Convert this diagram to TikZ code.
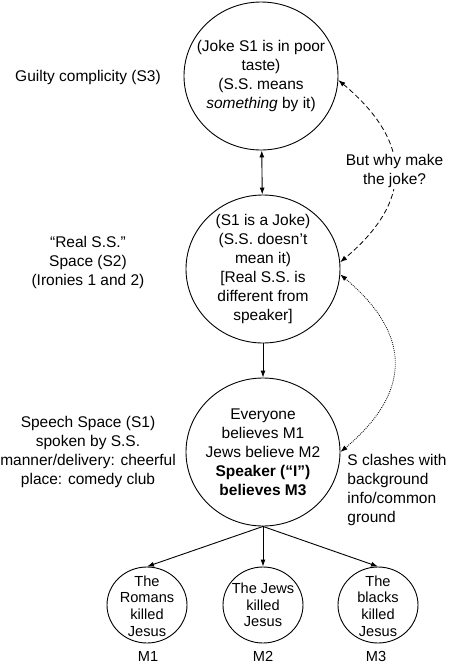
\documentclass[tikz,border=0pt]{standalone}
\usepackage{fontspec}
\setmainfont{Liberation Sans}
\usetikzlibrary{arrows.meta,shapes.geometric}
\begin{document}
\begin{tikzpicture}[x=1pt,y=-1pt,
  line width=0.9pt,
  tip/.style={-{Latex[length=7pt,width=5pt]}},
  dtip/.style={{Latex[length=7pt,width=5pt]}-{Latex[length=7pt,width=5pt]}},
  bigc/.style={draw,ellipse,minimum width=154pt,minimum height=148pt,inner sep=0pt},
  smallc/.style={draw,ellipse,minimum width=80pt,minimum height=76pt,inner sep=0pt},
  txt/.style={align=center,inner sep=0pt,font=\fontsize{15.5}{19}\selectfont},
  stxt/.style={align=center,inner sep=0pt,font=\fontsize{14.6}{16.7}\selectfont},
  dashline/.style={dash pattern=on 5pt off 3pt,line width=0.8pt},
  dotline/.style={dash pattern=on 0.9pt off 1.1pt,line width=0.8pt}
]
\useasboundingbox (0,0) rectangle (450,665);
% main circles
\node[bigc,label={[txt]center:{(Joke S1 is in poor\\taste)\\(S.S. means\\\textit{something} by it)}}] (top) at (261,76) {};
\node[bigc,label={[txt]center:{(S1 is a Joke)\\(S.S. doesn’t\\mean it)\\{[}Real S.S. is\\different from\\speaker{]}}}] (mid) at (263,269) {};
\node[bigc,label={[txt]center:{Everyone\\believes M1\\Jews believe M2\\\textbf{Speaker (“I”)}\\\textbf{believes M3}}}] (bot) at (263,452) {};
% small circles
\node[smallc,label={[stxt,yshift=-1pt]center:{The\\Romans\\killed\\Jesus}}] (m1) at (147,605) {};
\node[smallc,label={[stxt]center:{The Jews\\killed\\Jesus}}] (m2) at (263,605) {};
\node[smallc,label={[stxt,yshift=-1pt]center:{The\\blacks\\killed\\Jesus}}] (m3) at (378,605) {};
\node[stxt] (l1) at (148,656) {M1};
\node[stxt] (l2) at (263,656) {M2};
\node[stxt] (l3) at (376,656) {M3};
% left labels
\node[txt] (s3) at (88,77) {Guilty complicity (S3)};
\node[txt] (s2) at (88,262) {“Real S.S.”\\Space (S2)\\(Ironies 1 and 2)};
\node[txt] (s1) at (88,452) {Speech Space (S1)\\spoken by S.S.\\manner/delivery: cheerful\\place: comedy club};
% right label
\node[txt,align=left,anchor=west] (clash) at (347,490) {S clashes with\\background\\info/common\\ground};
% connectors
\draw[dtip] (top) -- (mid);
\draw[tip] (mid) -- (bot);
\draw[tip] (bot.south) -- (m1.north);
\draw[tip] (bot.south) -- (m2.north);
\draw[tip] (bot.south) -- (m3.north);
\draw[dashline,dtip] (top.-3) to[out=-40,in=40,looseness=1.35]
  node[txt,fill=white,inner sep=1.5pt,midway] (why) {But why make\\the joke?} (mid.5);
\draw[dotline,dtip] (mid.-4) to[out=-40,in=40,looseness=1.35] (bot.east);
\end{tikzpicture}
\end{document}
